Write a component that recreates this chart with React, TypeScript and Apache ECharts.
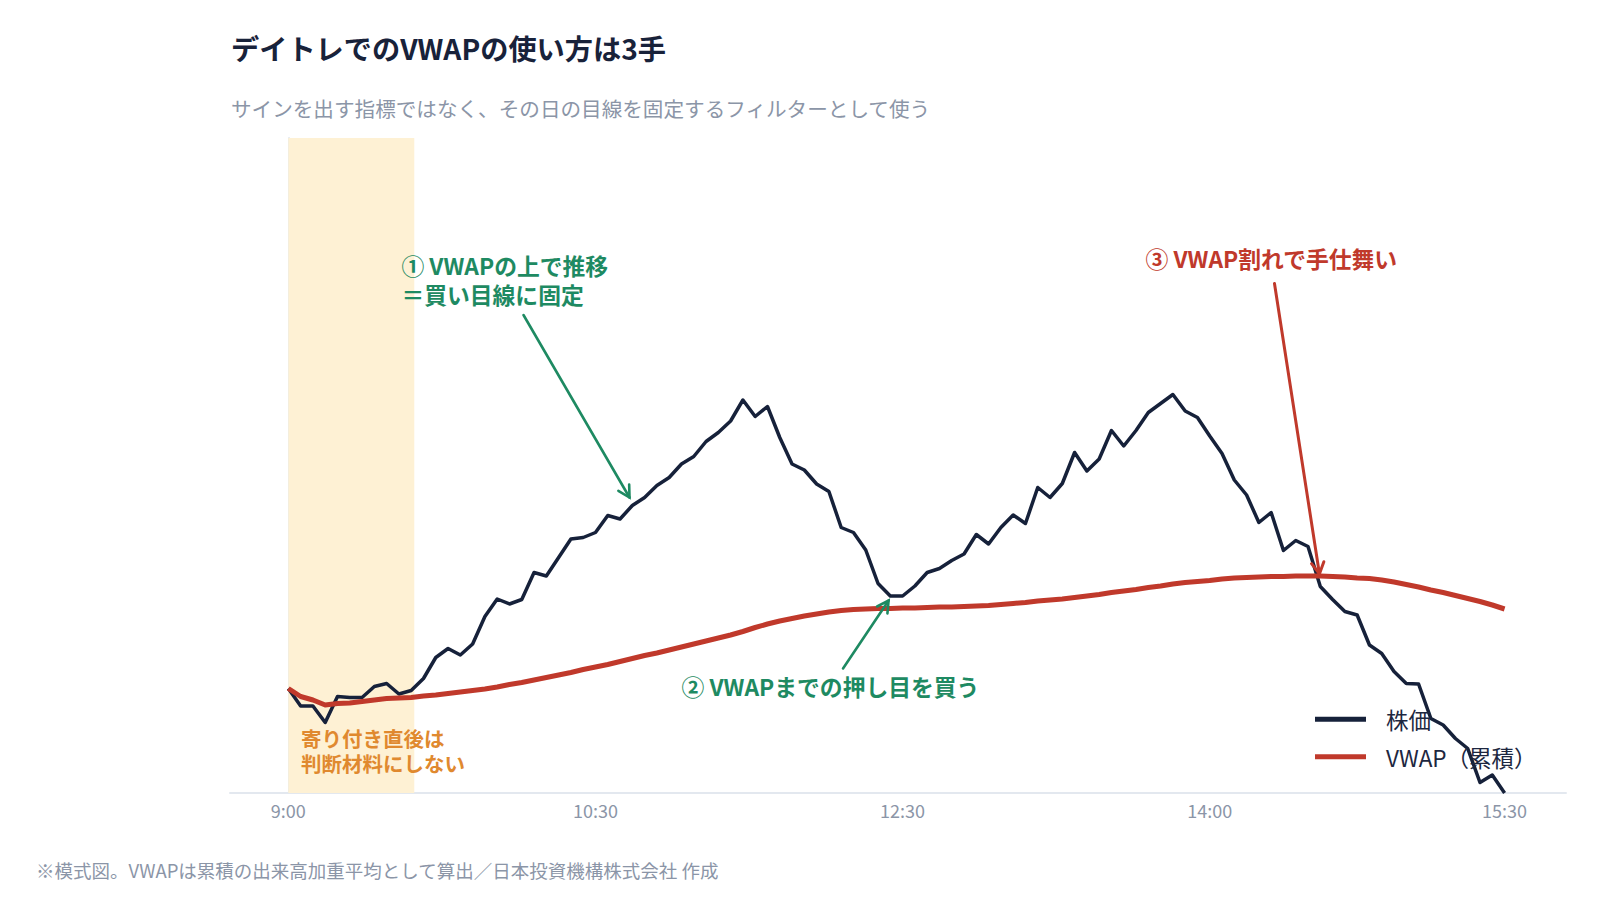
import React, { useEffect, useRef } from "react";
import * as echarts from "echarts";

const FONT = '"Noto Sans CJK JP", "Noto Sans", sans-serif';

const titleText = "デイトレでのVWAPの使い方は3手";
const subtitleText = "サインを出す指標ではなく、その日の目線を固定するフィルターとして使う";
const footerText = "※模式図。VWAPは累積の出来高加重平均として算出／日本投資機構株式会社 作成";

const seriesNames = ["株価", "VWAP（累積）"];
const tickIndices = [0, 25, 50, 75, 99];
const tickLabels = ["9:00", "10:30", "12:30", "14:00", "15:30"];

const price = [
  1020.9, 1017.4, 1017.4, 1014.1, 1019.3, 1019.1, 1019.1, 1021.3, 1021.9, 1019.8,
  1020.5, 1022.9, 1027.1, 1028.9, 1027.6, 1029.8, 1035.3, 1038.8, 1037.8, 1038.7,
  1044.1, 1043.4, 1047.1, 1050.8, 1051.1, 1052.1, 1055.5, 1054.8, 1057.5, 1059.1,
  1061.5, 1063.1, 1065.8, 1067.3, 1070.3, 1072.1, 1074.4, 1078.6, 1075.3, 1077.3,
  1071.1, 1065.8, 1064.6, 1061.8, 1060.3, 1053.1, 1052.1, 1048.6, 1041.9, 1039.4,
  1039.4, 1041.4, 1044.1, 1044.9, 1046.5, 1047.8, 1051.7, 1049.8, 1053.1, 1055.6,
  1053.9, 1061.1, 1059.1, 1061.9, 1068.1, 1064.4, 1066.8, 1072.5, 1069.4, 1072.5,
  1076.1, 1077.9, 1079.7, 1076.4, 1075.1, 1071.4, 1067.9, 1062.6, 1059.6, 1054.1,
  1056.1, 1048.5, 1050.5, 1049.3, 1041.3, 1038.7, 1036.3, 1035.6, 1029.6, 1027.9,
  1024.3, 1021.9, 1021.8, 1014.9, 1013.6, 1010.9, 1008.9, 1002.1, 1003.6, 1000.0,
];

const vwap = [
  1020.9, 1019.3, 1018.6, 1017.6, 1017.9, 1018.0, 1018.3, 1018.6, 1018.9, 1019.0,
  1019.1, 1019.4, 1019.6, 1019.9, 1020.2, 1020.5, 1020.8, 1021.2, 1021.7, 1022.1,
  1022.6, 1023.1, 1023.6, 1024.1, 1024.7, 1025.2, 1025.7, 1026.3, 1026.9, 1027.5,
  1028.0, 1028.6, 1029.2, 1029.8, 1030.4, 1031.0, 1031.6, 1032.3, 1033.1, 1033.8,
  1034.4, 1034.9, 1035.4, 1035.8, 1036.2, 1036.5, 1036.7, 1036.8, 1036.9, 1036.9,
  1037.0, 1037.0, 1037.1, 1037.2, 1037.2, 1037.3, 1037.4, 1037.5, 1037.7, 1037.9,
  1038.1, 1038.4, 1038.6, 1038.8, 1039.1, 1039.4, 1039.7, 1040.1, 1040.4, 1040.7,
  1041.1, 1041.4, 1041.8, 1042.1, 1042.3, 1042.5, 1042.8, 1043.0, 1043.1, 1043.2,
  1043.3, 1043.3, 1043.4, 1043.4, 1043.4, 1043.3, 1043.2, 1043.0, 1042.9, 1042.6,
  1042.2, 1041.7, 1041.2, 1040.6, 1040.1, 1039.5, 1038.9, 1038.3, 1037.6, 1036.8,
];

// opening zone (index range)
const openingZone = [0, 10.25];

// annotation anchors in data coordinates [index, price] (first line centre)
const note1Lines = ["① VWAPの上で推移", "＝買い目線に固定"];
const note1At = [9.2, 1105.5];
const note1Arrow = [[19.14, 1095.6], [27.77, 1059.1]];

const note2Lines = ["② VWAPまでの押し目を買う"];
const note2At = [32.0, 1021.4];
const note2Arrow = [[45.15, 1024.9], [48.86, 1038.5]];

const note3Lines = ["③ VWAP割れで手仕舞い"];
const note3At = [69.77, 1106.9];
const note3Arrow = [[80.27, 1101.9], [83.93, 1043.8]];

const openNoteLines = ["寄り付き直後は", "判断材料にしない"];
const openNoteAt = [1.03, 1011.1];

const NAVY = "#16213a";
const RED = "#c0392b";
const GREEN = "#1e8a62";
const ORANGE = "#e0892f";
const GRAY = "#8b95a7";

export default function App() {
  const ref = useRef<HTMLDivElement>(null);

  useEffect(() => {
    if (!ref.current) return;
    const chart = echarts.init(ref.current, undefined, { renderer: "svg" });

    chart.setOption({
      animation: false,
      backgroundColor: "#ffffff",
      textStyle: { fontFamily: FONT },
      title: [
        {
          text: titleText,
          left: 231,
          top: 33,
          padding: 0,
          textStyle: { fontSize: 28.2, fontWeight: "bold", color: "#18223a", fontFamily: FONT },
        },
        {
          text: subtitleText,
          left: 231,
          top: 98,
          padding: 0,
          textStyle: { fontSize: 20.6, fontWeight: "normal", color: GRAY, fontFamily: FONT },
        },
        {
          text: footerText,
          left: 36,
          top: 861,
          padding: 0,
          textStyle: { fontSize: 18.5, fontWeight: "normal", color: GRAY, fontFamily: FONT },
        },
      ],
      legend: {
        data: seriesNames,
        orient: "vertical",
        left: 1315,
        top: 708,
        itemWidth: 51,
        itemHeight: 5,
        itemGap: 15,
        icon: "rect",
        padding: 0,
        textStyle: { fontSize: 22.5, color: "#1d2740", fontFamily: FONT, padding: [0, 0, 0, 15] },
      },
      grid: { left: 230, right: 34, top: 138, bottom: 121, containLabel: false },
      xAxis: {
        type: "value",
        min: -4.75,
        max: 104,
        axisLine: { show: true, lineStyle: { color: "#e3e8ef", width: 2 } },
        axisTick: { show: false },
        splitLine: { show: false },
        axisLabel: {
          customValues: tickIndices,
          formatter: (v: number) => tickLabels[tickIndices.indexOf(v)] ?? "",
          color: GRAY,
          fontSize: 18,
          margin: 8,
          fontFamily: FONT,
        },
      },
      yAxis: {
        type: "value",
        min: 1000,
        max: 1131,
        axisLine: { show: true, lineStyle: { color: "#e3e8ef", width: 2 } },
        axisTick: { show: false },
        axisLabel: { show: false },
        splitLine: { show: false },
      },
      series: [
        {
          name: seriesNames[0],
          type: "line",
          data: price.map((v, i) => [i, v]),
          symbol: "none",
          lineStyle: { color: NAVY, width: 3.5, join: "round" },
          itemStyle: { color: NAVY },
          markArea: {
            silent: true,
            itemStyle: { color: "#fef1d4" },
            data: [[{ xAxis: openingZone[0] }, { xAxis: openingZone[1] }]],
          },
          z: 2,
        },
        {
          name: seriesNames[1],
          type: "line",
          data: vwap.map((v, i) => [i, v]),
          symbol: "none",
          lineStyle: { color: RED, width: 5, join: "round" },
          itemStyle: { color: RED },
          z: 3,
        },
      ],
    });

    const px = (p: number[]) => chart.convertToPixel({ gridIndex: 0 }, p) as number[];

    const arrow = (pts: number[][], color: string, width: number) => {
      const a = px(pts[0]);
      const b = px(pts[1]);
      const ang = Math.atan2(b[1] - a[1], b[0] - a[0]);
      const len = 13;
      const spread = 0.5;
      const l = [b[0] - len * Math.cos(ang - spread), b[1] - len * Math.sin(ang - spread)];
      const r = [b[0] - len * Math.cos(ang + spread), b[1] - len * Math.sin(ang + spread)];
      return [
        {
          type: "line",
          shape: { x1: a[0], y1: a[1], x2: b[0], y2: b[1] },
          style: { stroke: color, lineWidth: width, lineCap: "round" },
          z: 10,
        },
        {
          type: "polyline",
          shape: { points: [l, b, r] },
          style: { stroke: color, lineWidth: width, fill: null, lineCap: "round", lineJoin: "miter" },
          z: 10,
        },
      ];
    };

    const labels = (lines: string[], at: number[], color: string, size: number, lh: number) => {
      const p = px(at);
      return lines.map((text, k) => ({
        type: "text",
        x: p[0],
        y: p[1] + k * lh,
        z: 10,
        style: {
          text,
          fill: color,
          fontSize: size,
          fontWeight: "bold",
          fontFamily: FONT,
          lineHeight: size,
          textAlign: "left",
          textVerticalAlign: "middle",
          align: "left",
          verticalAlign: "middle",
        },
      }));
    };

    chart.setOption({
      graphic: [
        ...arrow(note1Arrow, GREEN, 2.6),
        ...arrow(note2Arrow, GREEN, 2.6),
        ...arrow(note3Arrow, RED, 3),
        ...labels(note1Lines, note1At, GREEN, 22.8, 28.6),
        ...labels(note2Lines, note2At, GREEN, 22.8, 28.6),
        ...labels(note3Lines, note3At, RED, 22.8, 28.6),
        ...labels(openNoteLines, openNoteAt, ORANGE, 20.5, 25.8),
      ],
    });

    return () => chart.dispose();
  }, []);

  return (
    <div
      ref={ref}
      style={{ position: "fixed", left: 0, top: 0, width: 1600, height: 914, background: "#fff" }}
    />
  );
}
